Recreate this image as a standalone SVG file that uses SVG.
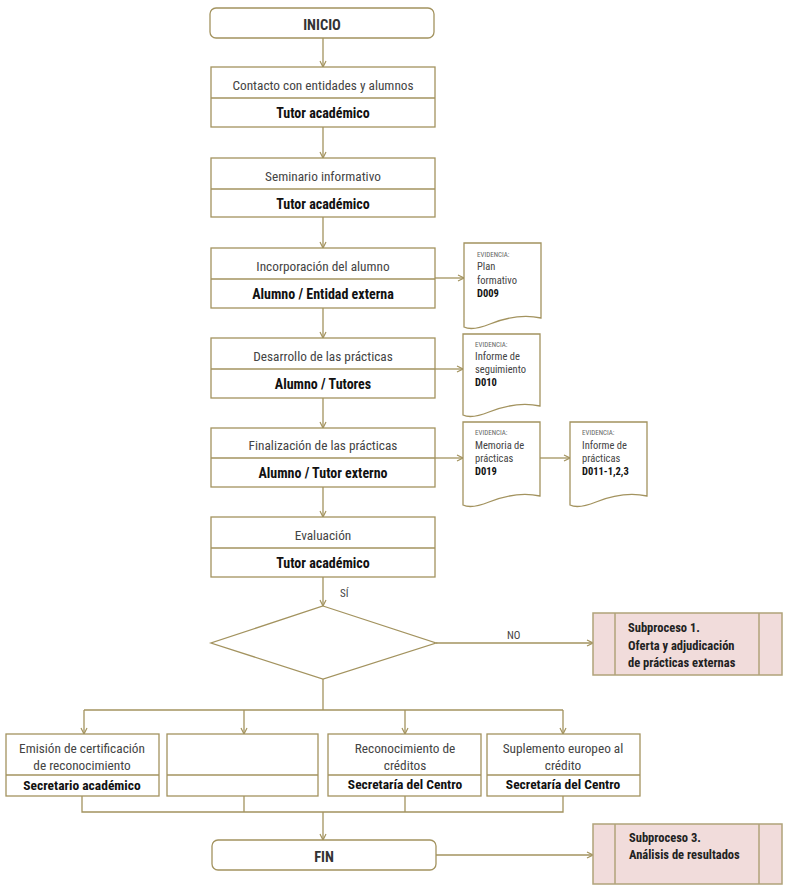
<svg xmlns="http://www.w3.org/2000/svg" width="786" height="889" viewBox="0 0 786 889">
<defs>
<style>
.b{fill:#fff;stroke:#a3935f;stroke-width:1.3}
.l{fill:none;stroke:#a3935f;stroke-width:1.3}
.sp{fill:#f1dcdb;stroke:#b0a37a;stroke-width:1.5}
text{font-family:"Liberation Sans Narrow","Roboto Condensed","Liberation Sans",Arial,sans-serif}
.t{font-size:13.3px;fill:#444;text-anchor:middle}
.tb{font-size:14px;fill:#111;font-weight:bold;text-anchor:middle}
.tb2{font-size:13.5px;fill:#111;font-weight:bold;text-anchor:middle}
.e{font-size:7px;fill:#666}
.d{font-size:10.5px;fill:#444}
.db{font-size:10.5px;fill:#111;font-weight:bold}
.s{font-size:12.5px;fill:#222;font-weight:bold}
</style>
<marker id="a" markerWidth="8" markerHeight="8" refX="7" refY="4" orient="auto" markerUnits="userSpaceOnUse">
<path d="M1,1 L7,4 L1,7" fill="none" stroke="#a3935f" stroke-width="1.2"/>
</marker>
</defs>
<rect width="786" height="889" fill="#fff"/>
<g id="connectors">
<line class="l" x1="323" y1="38" x2="323" y2="67" marker-end="url(#a)"/>
<line class="l" x1="323" y1="127" x2="323" y2="158" marker-end="url(#a)"/>
<line class="l" x1="323" y1="217" x2="323" y2="248" marker-end="url(#a)"/>
<line class="l" x1="323" y1="308" x2="323" y2="338" marker-end="url(#a)"/>
<line class="l" x1="323" y1="398" x2="323" y2="428" marker-end="url(#a)"/>
<line class="l" x1="323" y1="487" x2="323" y2="517" marker-end="url(#a)"/>
<line class="l" x1="323" y1="577" x2="323" y2="606" marker-end="url(#a)"/>
<line class="l" x1="435" y1="278" x2="464" y2="278" marker-end="url(#a)"/>
<line class="l" x1="435" y1="369" x2="463" y2="369" marker-end="url(#a)"/>
<line class="l" x1="435" y1="458" x2="463" y2="458" marker-end="url(#a)"/>
<line class="l" x1="540" y1="458" x2="570" y2="458" marker-end="url(#a)"/>
<line class="l" x1="436" y1="643" x2="593" y2="643" marker-end="url(#a)"/>
<text x="507" y="639" style="font-size:11px;fill:#444">NO</text>
<text x="340" y="597" style="font-size:11px;fill:#444">SÍ</text>
<polyline class="l" points="323,679 323,710"/>
<polyline class="l" points="84,710 563,710"/>
<line class="l" x1="84" y1="710" x2="84" y2="734" marker-end="url(#a)"/>
<line class="l" x1="244" y1="710" x2="244" y2="734" marker-end="url(#a)"/>
<line class="l" x1="405" y1="710" x2="405" y2="734" marker-end="url(#a)"/>
<line class="l" x1="563" y1="710" x2="563" y2="734" marker-end="url(#a)"/>
<polyline class="l" points="82,796 82,812 563,812 563,796"/>
<line class="l" x1="244" y1="796" x2="244" y2="812"/>
<line class="l" x1="405" y1="796" x2="405" y2="812"/>
<line class="l" x1="323" y1="812" x2="323" y2="840" marker-end="url(#a)"/>
<line class="l" x1="436" y1="855" x2="593" y2="855" marker-end="url(#a)"/>
</g>
<g id="inicio">
<rect class="b" x="210" y="8" width="224" height="30" rx="6"/>
<text class="tb" x="322" y="30" style="font-size:14.5px;fill:#333">INICIO</text>
</g>
<g id="n1">
<rect class="b" x="211" y="67" width="224" height="60"/>
<line class="l" x1="211" y1="98" x2="435" y2="98"/>
<text class="t" x="323" y="90">Contacto con entidades y alumnos</text>
<text class="tb" x="323" y="118">Tutor académico</text>
</g>
<g id="n2">
<rect class="b" x="211" y="158" width="224" height="59"/>
<line class="l" x1="211" y1="189" x2="435" y2="189"/>
<text class="t" x="323" y="181">Seminario informativo</text>
<text class="tb" x="323" y="209">Tutor académico</text>
</g>
<g id="n3">
<rect class="b" x="211" y="248" width="224" height="60"/>
<line class="l" x1="211" y1="279" x2="435" y2="279"/>
<text class="t" x="323" y="271">Incorporación del alumno</text>
<text class="tb" x="323" y="299">Alumno / Entidad externa</text>
</g>
<g id="n4">
<rect class="b" x="211" y="338" width="224" height="60"/>
<line class="l" x1="211" y1="369" x2="435" y2="369"/>
<text class="t" x="323" y="361">Desarrollo de las prácticas</text>
<text class="tb" x="323" y="389">Alumno / Tutores</text>
</g>
<g id="n5">
<rect class="b" x="211" y="428" width="224" height="59"/>
<line class="l" x1="211" y1="458" x2="435" y2="458"/>
<text class="t" x="323" y="450">Finalización de las prácticas</text>
<text class="tb" x="323" y="478">Alumno / Tutor externo</text>
</g>
<g id="n6">
<rect class="b" x="211" y="517" width="224" height="60"/>
<line class="l" x1="211" y1="548" x2="435" y2="548"/>
<text class="t" x="323" y="540">Evaluación</text>
<text class="tb" x="323" y="568">Tutor académico</text>
</g>
<g id="decision">
<polygon class="b" points="323,606 436,643 323,679 211,643"/>
</g>
<g id="sub1">
<rect class="sp" x="593" y="613" width="189" height="62"/>
<line class="sp" x1="615" y1="613" x2="615" y2="675"/>
<line class="sp" x1="759" y1="613" x2="759" y2="675"/>
<text class="s" x="628" y="632">Subproceso 1.</text>
<text class="s" x="628" y="650">Oferta y adjudicación</text>
<text class="s" x="628" y="667">de prácticas externas</text>
</g>
<g id="doc1">
<path class="b" d="M464,243 H541 V318 C522,314 505,318 490,324 C480,328 470,330 464,327 Z"/>
<text class="e" x="477" y="257">EVIDENCIA:</text>
<text class="d" x="477" y="270">Plan</text>
<text class="d" x="477" y="284">formativo</text>
<text class="db" x="477" y="297">D009</text>
</g>
<g id="doc2">
<path class="b" d="M463,334 H540 V406 C521,402 504,406 489,412 C479,416 469,418 463,415 Z"/>
<text class="e" x="475" y="347">EVIDENCIA:</text>
<text class="d" x="475" y="360">Informe de</text>
<text class="d" x="475" y="373">seguimiento</text>
<text class="db" x="475" y="386">D010</text>
</g>
<g id="doc3">
<path class="b" d="M463,422 H540 V496 C521,492 504,496 489,502 C479,506 469,508 463,505 Z"/>
<text class="e" x="475" y="435">EVIDENCIA:</text>
<text class="d" x="475" y="449">Memoria de</text>
<text class="d" x="475" y="462">prácticas</text>
<text class="db" x="475" y="475">D019</text>
</g>
<g id="doc4">
<path class="b" d="M570,422 H647 V496 C628,492 611,496 596,502 C586,506 576,508 570,505 Z"/>
<text class="e" x="582" y="435">EVIDENCIA:</text>
<text class="d" x="582" y="449">Informe de</text>
<text class="d" x="582" y="462">prácticas</text>
<text class="db" x="582" y="475">D011-1,2,3</text>
</g>
<g id="b1">
<rect class="b" x="6" y="734" width="153" height="62"/>
<line class="l" x1="6" y1="775" x2="159" y2="775"/>
<text class="t" x="82" y="753">Emisión de certificación</text>
<text class="t" x="82" y="770">de reconocimiento</text>
<text class="tb2" x="82" y="790">Secretario académico</text>
</g>
<g id="b2">
<rect class="b" x="167" y="734" width="151" height="62"/>
<line class="l" x1="167" y1="775" x2="318" y2="775"/>
</g>
<g id="b3">
<rect class="b" x="328" y="734" width="153" height="62"/>
<line class="l" x1="328" y1="775" x2="481" y2="775"/>
<text class="t" x="405" y="753">Reconocimiento de</text>
<text class="t" x="405" y="770">créditos</text>
<text class="tb2" x="405" y="789">Secretaría del Centro</text>
</g>
<g id="b4">
<rect class="b" x="487" y="734" width="153" height="62"/>
<line class="l" x1="487" y1="775" x2="640" y2="775"/>
<text class="t" x="563" y="753">Suplemento europeo al</text>
<text class="t" x="563" y="770">crédito</text>
<text class="tb2" x="563" y="789">Secretaría del Centro</text>
</g>
<g id="fin">
<rect class="b" x="212" y="840" width="224" height="30" rx="6"/>
<text class="tb" x="324" y="862" style="font-size:14.5px;fill:#333">FIN</text>
</g>
<g id="sub3">
<rect class="sp" x="593" y="824" width="189" height="60"/>
<line class="sp" x1="615" y1="824" x2="615" y2="884"/>
<line class="sp" x1="759" y1="824" x2="759" y2="884"/>
<text class="s" x="629" y="842">Subproceso 3.</text>
<text class="s" x="629" y="859">Análisis de resultados</text>
</g>
</svg>
